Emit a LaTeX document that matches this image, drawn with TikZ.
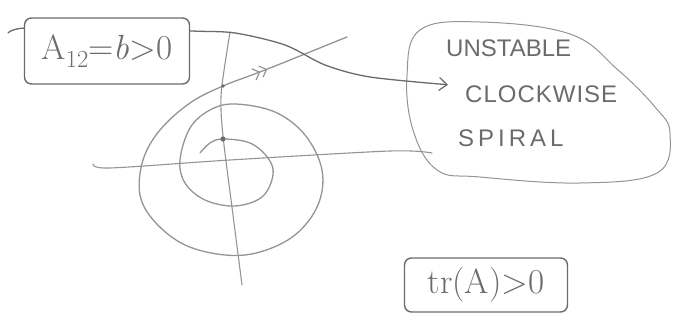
\documentclass[tikz,border=0pt]{standalone}
\usepackage{fontspec}
\setsansfont{Liberation Sans}
\usetikzlibrary{arrows.meta,decorations.markings}
\definecolor{pencil}{gray}{0.58}
\definecolor{lead}{gray}{0.42}
\begin{document}
\begin{tikzpicture}[x=1pt,y=-1pt,
  pen/.style={draw=pencil,line width=1.1pt,line cap=round,line join=round},
  lbox/.style={draw=lead,line width=1.4pt,rounded corners=7pt,fill=white,inner sep=0pt,text=lead,font=\fontsize{35}{38}\selectfont},
  cloudtext/.style={text=lead,font=\sffamily\fontsize{24}{26}\selectfont,inner sep=0pt,anchor=base west},
  tipstyle/.style={-{Straight Barb[length=8pt,width=13pt,line width=1.2pt]}}]
\useasboundingbox (0,0) rectangle (678,328);

% axes
\draw[pen] plot[smooth] coordinates {(93,164) (110,168) (230,160) (390,151) (432,153)};
\draw[pen] plot[smooth] coordinates {(230,32) (222,85) (221,110) (224,145) (233,215) (242,285)};

% spiral
\draw[pen,line width=1.3pt,postaction={decorate},
  decoration={markings,mark=at position -86pt with {\arrow{Straight Barb[length=6pt,width=12pt,line width=1.2pt] Straight Barb[length=6pt,width=12pt,line width=1.2pt]}}}]
  plot[smooth,tension=0.6] coordinates {(200,153) (210,143) (223,139) (250,143) (268,158) (273,175) (262,197) (235,206) (205,200) (185,183) (180,160) (190,128) (210,110) (235,104) (275,112) (305,135) (322,170) (318,205) (295,235) (260,252) (225,255) (185,245) (155,222) (140,195) (143,160) (160,130) (190,103) (223,86) (265,70) (347,37)};
\fill[lead] (223,139) circle (2.6);
\fill[lead] (223,86) circle (1.8);

% cloud
\draw[pen,line width=1pt] plot[smooth cycle,tension=0.65] coordinates {(420,30) (480,22) (570,34) (618,70) (655,107) (670,133) (657,173) (580,183) (480,177) (437,170) (413,130) (407,75)};
\node[cloudtext] (un) at (446,57) {UNSTABLE};
\node[cloudtext] (cw) at (465,103) {C\kern1ptL\kern1ptO\kern1ptC\kern1ptK\kern1ptW\kern1ptI\kern1ptS\kern1ptE};
\node[cloudtext] (sp) at (458,147) {S\,P\,I\,R\,A\,L};

% connector from the condition box to the cloud
\coordinate (s) at (8,33);
\coordinate (tip) at ([shift={(-17,-10)}]cw.west);
\draw[pen,draw=lead,line width=1.3pt,tipstyle] plot[smooth] coordinates {(s) (25,28) (110,27) (192,31) (235,33) (285,45) (325,65) (370,77) (tip)};

% condition boxes
\node[lbox,minimum width=165pt,minimum height=66pt] (a) at (107,51) {A\textsubscript{12}=\textit{b}>0};
\node[lbox,minimum width=163pt,minimum height=54pt] (tr) at (486,285) {tr(A)>0};
\end{tikzpicture}
\end{document}
